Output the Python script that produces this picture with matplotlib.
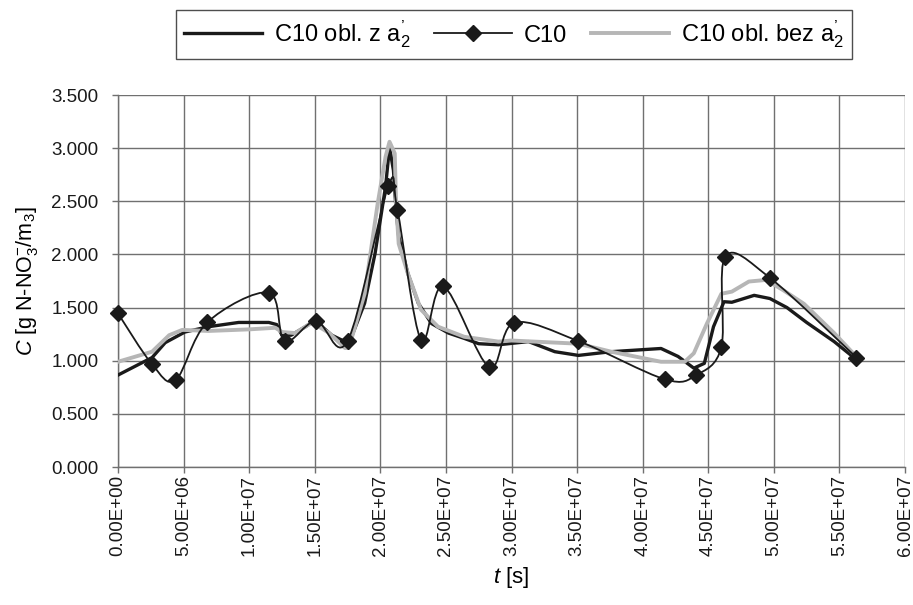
import numpy as np
import matplotlib
matplotlib.use("Agg")
import matplotlib.pyplot as plt
from matplotlib.path import Path
from matplotlib.patches import PathPatch
from matplotlib.lines import Line2D
from matplotlib.ticker import FuncFormatter, MultipleLocator

plt.rcParams['font.family'] = ['Liberation Sans', 'DejaVu Sans']
plt.rcParams['mathtext.fontset'] = 'custom'
plt.rcParams['mathtext.rm'] = 'Liberation Sans'
plt.rcParams['mathtext.it'] = 'Liberation Sans:italic'

# measured series C10 (markers)
t_meas = np.array([0.0, 0.26, 0.44, 0.68, 1.15, 1.27, 1.51, 1.75, 2.06, 2.13, 2.31,
                   2.48, 2.83, 3.02, 3.51, 4.17, 4.41, 4.60, 4.63, 4.97, 5.63]) * 1e7
c_meas = np.array([1.445, 0.966, 0.82, 1.36, 1.64, 1.185, 1.375, 1.185, 2.64, 2.42, 1.195,
                   1.70, 0.94, 1.357, 1.185, 0.825, 0.866, 1.13, 1.98, 1.78, 1.03])

# computed with a2'
t_z = np.array([0.0, 0.26, 0.36, 0.51, 0.69, 0.92, 1.15, 1.21, 1.25, 1.32, 1.43, 1.50,
                1.63, 1.73, 1.76, 1.88, 1.96, 2.04, 2.07, 2.10, 2.12, 2.14, 2.21, 2.29,
                2.39, 2.52, 2.64, 2.75, 2.90, 3.13, 3.33, 3.51, 3.76, 4.14, 4.27, 4.39,
                4.47, 4.54, 4.62, 4.68, 4.85, 4.97, 5.10, 5.25, 5.46, 5.61]) * 1e7
c_z = np.array([0.865, 1.03, 1.17, 1.27, 1.32, 1.36, 1.36, 1.34, 1.24, 1.24, 1.32, 1.38,
                1.24, 1.18, 1.16, 1.54, 2.01, 2.64, 3.01, 2.79, 2.42, 2.17, 1.82, 1.54,
                1.35, 1.26, 1.21, 1.16, 1.15, 1.18, 1.085, 1.05, 1.085, 1.115, 1.04, 0.93,
                0.975, 1.32, 1.555, 1.55, 1.615, 1.585, 1.50, 1.36, 1.18, 1.03])

# computed without a2'
t_bez = np.array([0.0, 0.26, 0.39, 0.49, 0.69, 1.00, 1.20, 1.25, 1.35, 1.48, 1.61, 1.73,
                  1.76, 1.88, 1.98, 2.04, 2.07, 2.11, 2.12, 2.14, 2.21, 2.31, 2.44, 2.64,
                  2.90, 3.00, 3.51, 3.76, 4.14, 4.32, 4.39, 4.49, 4.60, 4.68, 4.81, 4.94,
                  5.07, 5.23, 5.46, 5.62]) * 1e7
c_bez = np.array([0.99, 1.085, 1.24, 1.29, 1.28, 1.295, 1.31, 1.27, 1.26, 1.36, 1.26, 1.12,
                  1.12, 1.63, 2.48, 2.92, 3.06, 2.95, 2.48, 2.10, 1.82, 1.48, 1.32, 1.225,
                  1.18, 1.19, 1.16, 1.085, 0.99, 0.99, 1.07, 1.35, 1.63, 1.65, 1.745, 1.76,
                  1.665, 1.535, 1.26, 1.05])

labels = ["C10 obl. z a$_2^{’}$", "C10", "C10 obl. bez a$_2^{’}$"]

fig = plt.figure(figsize=(9.13, 6.05), dpi=100)
ax = fig.add_axes([118/913, 1-467/605, (905-118)/913, (467-95)/605])

ax.set_xlim(0, 6e7)
ax.set_ylim(0, 3.5)
ax.xaxis.set_major_locator(MultipleLocator(5e6))
ax.yaxis.set_major_locator(MultipleLocator(0.5))
ax.xaxis.set_major_formatter(FuncFormatter(lambda v, p: f"{v:.2E}"))
ax.yaxis.set_major_formatter(FuncFormatter(lambda v, p: f"{v:.3f}"))
ax.grid(True, color='#707070', linewidth=1.0)
ax.set_axisbelow(True)
for s in ['top', 'right']:
    ax.spines[s].set_visible(False)
for s in ['left', 'bottom']:
    ax.spines[s].set_color('#707070')
    ax.spines[s].set_linewidth(1.0)
ax.tick_params(axis='both', colors='#707070', labelcolor='#1a1a1a', labelsize=13.5,
               length=4, width=1.0)
ax.tick_params(axis='x', labelrotation=90, pad=2)
ax.tick_params(axis='y', pad=10)

# thick black computed line
ax.plot(t_z, c_z, color='#1a1a1a', lw=2.4, solid_joinstyle='round', zorder=3)
# gray computed line
ax.plot(t_bez, c_bez, color='#b6b6b6', lw=2.8, solid_joinstyle='round', zorder=4)

# smoothed measured line (Catmull-Rom style Bezier as Excel)
pts = np.column_stack([t_meas, c_meas])
verts = [pts[0]]
codes = [Path.MOVETO]
n = len(pts)
for i in range(n - 1):
    p0 = pts[i - 1] if i > 0 else pts[i]
    p1 = pts[i]
    p2 = pts[i + 1]
    p3 = pts[i + 2] if i + 2 < n else pts[i + 1]
    c1 = p1 + (p2 - p0) / 6.0
    c2 = p2 - (p3 - p1) / 6.0
    verts += [c1, c2, p2]
    codes += [Path.CURVE4] * 3
ax.add_patch(PathPatch(Path(verts, codes), facecolor='none', edgecolor='#1a1a1a',
                       lw=1.3, zorder=5))
ax.plot(t_meas, c_meas, linestyle='none', marker='D', markersize=8.5,
        color='#1a1a1a', zorder=6, clip_on=False)

ax.set_xlabel("$t$ [s]", fontsize=16, labelpad=6)
ax.set_ylabel("$C$ [g N-NO$_3^{-}$/m$_3$]", fontsize=15.5, labelpad=8)

handles = [Line2D([], [], color='#1a1a1a', lw=2.4),
           Line2D([], [], color='#1a1a1a', lw=1.3, marker='D', markersize=8.5),
           Line2D([], [], color='#b6b6b6', lw=2.8)]
leg = fig.legend(handles, labels, loc='center', bbox_to_anchor=(514/913, 1-34.5/605),
                 ncol=3, fontsize=17, frameon=True, fancybox=False, handlelength=3.3,
                 handletextpad=0.5, columnspacing=1.0, borderpad=0.35,
                 borderaxespad=0)
leg.get_frame().set_edgecolor('#222222')
leg.get_frame().set_linewidth(1.0)

fig.savefig("out.png", dpi=100)
